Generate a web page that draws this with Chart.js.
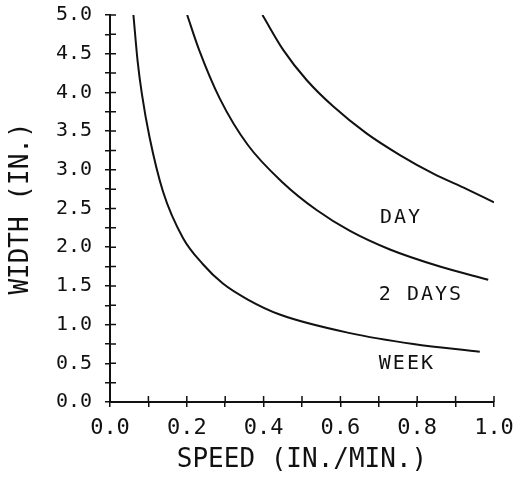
<!DOCTYPE html>
<html>
<head>
<meta charset="utf-8">
<script src="https://cdn.jsdelivr.net/npm/chart.js@4.4.0/dist/chart.umd.min.js"></script>
<style>
  body { margin: 0; background: #fff; }
  #wrap { width: 528px; height: 478px; }
</style>
</head>
<body>
<div id="wrap"><canvas id="myChart" width="528" height="478"></canvas></div>
<script>
// values
var weekX = [0.061, 0.072, 0.083, 0.103, 0.138, 0.190, 0.242, 0.294, 0.360, 0.442, 0.625, 0.790, 0.963];
var weekY = [5.00, 4.40, 3.98, 3.42, 2.72, 2.12, 1.78, 1.53, 1.32, 1.13, 0.89, 0.75, 0.65];

var twoDaysX = [0.201, 0.232, 0.286, 0.359, 0.451, 0.538, 0.625, 0.729, 0.859, 0.985];
var twoDaysY = [5.00, 4.55, 3.92, 3.32, 2.83, 2.48, 2.21, 1.97, 1.75, 1.58];

var dayX = [0.397, 0.451, 0.512, 0.581, 0.668, 0.755, 0.842, 0.929, 1.000];
var dayY = [5.00, 4.55, 4.16, 3.82, 3.47, 3.19, 2.95, 2.75, 2.58];

var curveLabels = ['DAY', '2 DAYS', 'WEEK'];
var labelX = [0.703, 0.700, 0.700];
var labelY = [2.38, 1.39, 0.49];

var ink = '#111';
var mono = '"DejaVu Sans Mono", "Liberation Mono", monospace';

function toPoints(xs, ys) {
    var pts = [];
    for (var i = 0; i < xs.length; i++) {
        pts.push({ x: xs[i], y: ys[i] });
    }
    return pts;
}

function curve(label, xs, ys) {
    return {
        label: label,
        data: toPoints(xs, ys),
        borderColor: ink,
        borderWidth: 2,
        pointRadius: 0,
        fill: false,
        cubicInterpolationMode: 'monotone'
    };
}

// ticks that cross the axis line, plus the curve names inside the plot
var plotterMarks = {
    id: 'plotterMarks',
    afterDraw: function (chart) {
        var ctx = chart.ctx;
        var xs = chart.scales.x;
        var ys = chart.scales.y;
        ctx.save();
        ctx.strokeStyle = ink;
        ctx.lineWidth = 1.5;
        ctx.beginPath();
        ys.ticks.forEach(function (t) {
            var py = ys.getPixelForValue(t.value);
            ctx.moveTo(xs.left, py);
            ctx.lineTo(xs.left + 6, py);
        });
        xs.ticks.forEach(function (t) {
            var px = xs.getPixelForValue(t.value);
            ctx.moveTo(px, ys.bottom);
            ctx.lineTo(px, ys.bottom - 6);
        });
        ctx.stroke();

        ctx.fillStyle = ink;
        ctx.font = '20px ' + mono;
        ctx.letterSpacing = '2px';
        ctx.textAlign = 'left';
        ctx.textBaseline = 'middle';
        for (var i = 0; i < curveLabels.length; i++) {
            ctx.fillText(curveLabels[i], xs.getPixelForValue(labelX[i]), ys.getPixelForValue(labelY[i]));
        }
        ctx.restore();
    }
};

var config = {
    type: 'line',
    data: {
        datasets: [
            curve('DAY', dayX, dayY),
            curve('2 DAYS', twoDaysX, twoDaysY),
            curve('WEEK', weekX, weekY)
        ]
    },
    options: {
        responsive: false,
        animation: false,
        layout: { padding: { top: 15, right: 34, bottom: 0, left: 0 } },
        plugins: {
            legend: { display: false },
            tooltip: { enabled: false }
        },
        scales: {
            x: {
                type: 'linear',
                min: 0,
                max: 1,
                afterFit: function (scale) {
                    scale.height = 76;
                    scale.paddingLeft = 0;
                    scale.paddingRight = 0;
                },
                border: { display: true, color: ink, width: 2 },
                grid: { display: true, drawOnChartArea: false, drawTicks: true, tickLength: 5, color: ink, lineWidth: 1.5 },
                ticks: {
                    stepSize: 0.1,
                    color: ink,
                    padding: 8,
                    maxRotation: 0,
                    autoSkip: false,
                    font: { family: mono, size: 22 },
                    callback: function (v) {
                        return Math.round(v * 10) % 2 === 0 ? v.toFixed(1) : '';
                    }
                },
                title: {
                    display: true,
                    text: 'SPEED (IN./MIN.)',
                    color: ink,
                    font: { family: mono, size: 26 },
                    padding: { top: 0, bottom: 2 }
                }
            },
            y: {
                min: 0,
                max: 5,
                afterFit: function (scale) {
                    scale.width = 110;
                    scale.paddingTop = 0;
                    scale.paddingBottom = 0;
                },
                border: { display: true, color: ink, width: 2 },
                grid: { display: true, drawOnChartArea: false, drawTicks: true, tickLength: 5, color: ink, lineWidth: 1.5 },
                ticks: {
                    stepSize: 0.25,
                    color: ink,
                    padding: 13,
                    autoSkip: false,
                    font: { family: mono, size: 20 },
                    callback: function (v) {
                        return Math.round(v * 4) % 2 === 0 ? v.toFixed(1) : '';
                    }
                },
                title: {
                    display: true,
                    text: 'WIDTH (IN.)',
                    color: ink,
                    font: { family: mono, size: 26 },
                    padding: { top: 6, bottom: 0 }
                }
            }
        }
    },
    plugins: [plotterMarks]
};

var ctx = document.getElementById('myChart').getContext('2d');
var currentChart = new Chart(ctx, config);
</script>
</body>
</html>
